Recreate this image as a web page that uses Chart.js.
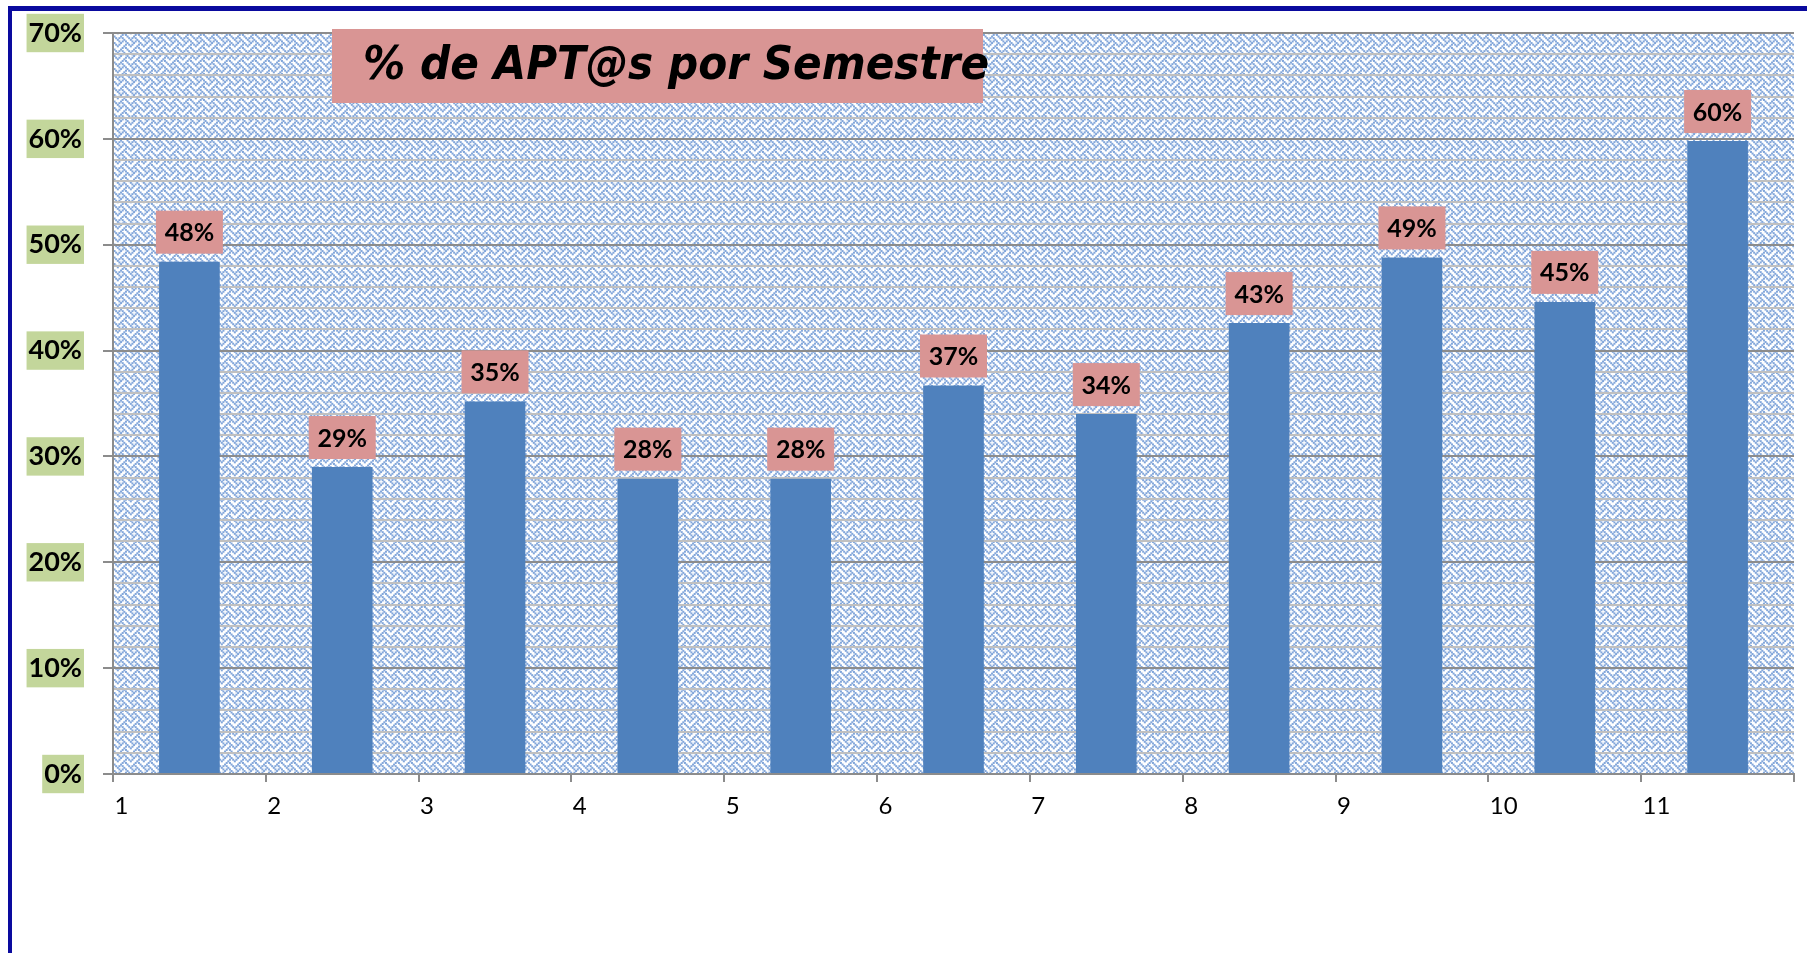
<!DOCTYPE html>
<html><head><meta charset="utf-8">
<script src="https://cdn.jsdelivr.net/npm/chart.js@4/dist/chart.umd.min.js"></script>
<style>html,body{margin:0;padding:0;background:#fff;overflow:hidden}#wrap{position:relative;width:1807px;height:953px}</style>
</head><body><div id="wrap"><canvas id="c" width="1807" height="953"></canvas></div>
<script>
const categories = ['1','2','3','4','5','6','7','8','9','10','11'];
const values = [48.4, 29.0, 35.2, 27.9, 27.9, 36.7, 34.0, 42.6, 48.8, 44.6, 59.8];
const valueLabels = ['48%','29%','35%','28%','28%','37%','34%','43%','49%','45%','60%'];
const yTickLabels = ['0%','10%','20%','30%','40%','50%','60%','70%'];
const titleText = '% de APT@s por Semestre';

const BLUE = '#4f81bd', PINK = '#d99594', GREEN = '#c3d69b';

function makePattern(ctx) {
  const bits = [0x88, 0x54, 0x22, 0x45, 0x88, 0x14, 0x22, 0x51];
  const size = 13, cell = size / 8;
  const t = document.createElement('canvas');
  t.width = size; t.height = size;
  const g = t.getContext('2d');
  g.fillStyle = '#ffffff'; g.fillRect(0, 0, size, size);
  g.fillStyle = '#82a6da';
  for (let r = 0; r < 8; r++) for (let c = 0; c < 8; c++) {
    if (bits[r] & (0x80 >> c)) {
      for (const dx of [-size, 0, size]) for (const dy of [-size, 0, size])
        g.fillRect(c * cell + dx - 0.2, r * cell + dy - 0.2, cell + 0.4, cell + 0.4);
    }
  }
  return ctx.createPattern(t, 'repeat');
}

const framePlugin = {
  id: 'frame',
  beforeDraw(chart) {
    const ctx = chart.ctx, a = chart.chartArea;
    ctx.save();
    ctx.fillStyle = '#ffffff';
    ctx.fillRect(0, 0, chart.width, chart.height);
    ctx.fillStyle = '#0a0a9e';
    ctx.fillRect(8, 6, chart.width, 5);
    ctx.fillRect(8, 6, 4, chart.height);
    ctx.fillStyle = makePattern(ctx);
    ctx.fillRect(a.left, a.top, a.right - a.left, a.bottom - a.top);
    ctx.restore();
  }
};

const labelPlugin = {
  id: 'vlabels',
  afterDatasetsDraw(chart) {
    const ctx = chart.ctx, meta = chart.getDatasetMeta(0);
    ctx.save();
    ctx.font = 'bold 25px Lato';
    ctx.textAlign = 'center';
    ctx.textBaseline = 'middle';
    meta.data.forEach((bar, i) => {
      const w = 67, h = 43;
      const bottom = bar.y - 8;
      ctx.fillStyle = PINK;
      ctx.fillRect(bar.x - w / 2, bottom - h, w, h);
      ctx.fillStyle = '#000';
      ctx.fillText(valueLabels[i], bar.x, bottom - h / 2 + 1);
    });
    ctx.restore();
  }
};

const titlePlugin = {
  id: 'titlebox',
  afterDraw(chart) {
    const ctx = chart.ctx;
    ctx.save();
    ctx.fillStyle = PINK;
    ctx.fillRect(332, 29, 651, 74);
    ctx.fillStyle = '#000';
    ctx.font = 'italic bold 47px "DejaVu Sans"';
    ctx.textAlign = 'left';
    ctx.textBaseline = 'alphabetic';
    ctx.fillText(titleText, 363, 79, 626);
    ctx.restore();
  }
};

new Chart(document.getElementById('c'), {
  type: 'bar',
  data: {
    labels: categories,
    datasets: [{
      data: values,
      backgroundColor: BLUE,
      borderWidth: 0,
      barPercentage: 0.397,
      categoryPercentage: 1.0
    }]
  },
  options: {
    responsive: false,
    animation: false,
    devicePixelRatio: 1,
    layout: { padding: { top: 33, right: 13, bottom: 132, left: 0 } },
    plugins: { legend: { display: false }, tooltip: { enabled: false }, title: { display: false } },
    scales: {
      x: {
        type: 'category',
        offset: true,
        afterFit: s => { s.height = 47; },
        grid: { offset: true, drawOnChartArea: false, drawTicks: true, tickLength: 8, color: '#8c8c8c', lineWidth: 2 },
        border: { display: true, color: '#8c8c8c', width: 2 },
        ticks: { align: 'start', labelOffset: -75, padding: 10, color: '#000', font: { family: 'Lato', size: 24 }, maxRotation: 0, autoSkip: false }
      },
      y: {
        min: 0, max: 70,
        afterFit: s => { s.width = 113; s.paddingTop = 0; s.paddingBottom = 0; },
        grid: {
          color: c => (c.tick && c.tick.value % 10 === 0) ? '#8c8c8c' : '#c0c0c0',
          lineWidth: 2,
          tickLength: 10,
          drawTicks: true,
          tickColor: c => (c.tick && c.tick.value % 10 === 0) ? '#8c8c8c' : 'rgba(0,0,0,0)'
        },
        border: { display: true, color: '#8c8c8c', width: 2 },
        ticks: {
          stepSize: 2,
          maxTicksLimit: 100,
          autoSkip: false,
          padding: 21,
          color: '#000',
          font: { family: 'Lato', size: 27, weight: 'bold' },
          callback: v => (v % 10 === 0) ? yTickLabels[v / 10] : '',
          showLabelBackdrop: c => c.tick && c.tick.value % 10 === 0,
          backdropColor: c => (c.tick && c.tick.value % 10 === 0) ? GREEN : 'rgba(0,0,0,0)',
          backdropPadding: { top: 3, bottom: 3, left: 2, right: 2 }
        }
      }
    }
  },
  plugins: [framePlugin, labelPlugin, titlePlugin]
});
</script>
</body></html>
